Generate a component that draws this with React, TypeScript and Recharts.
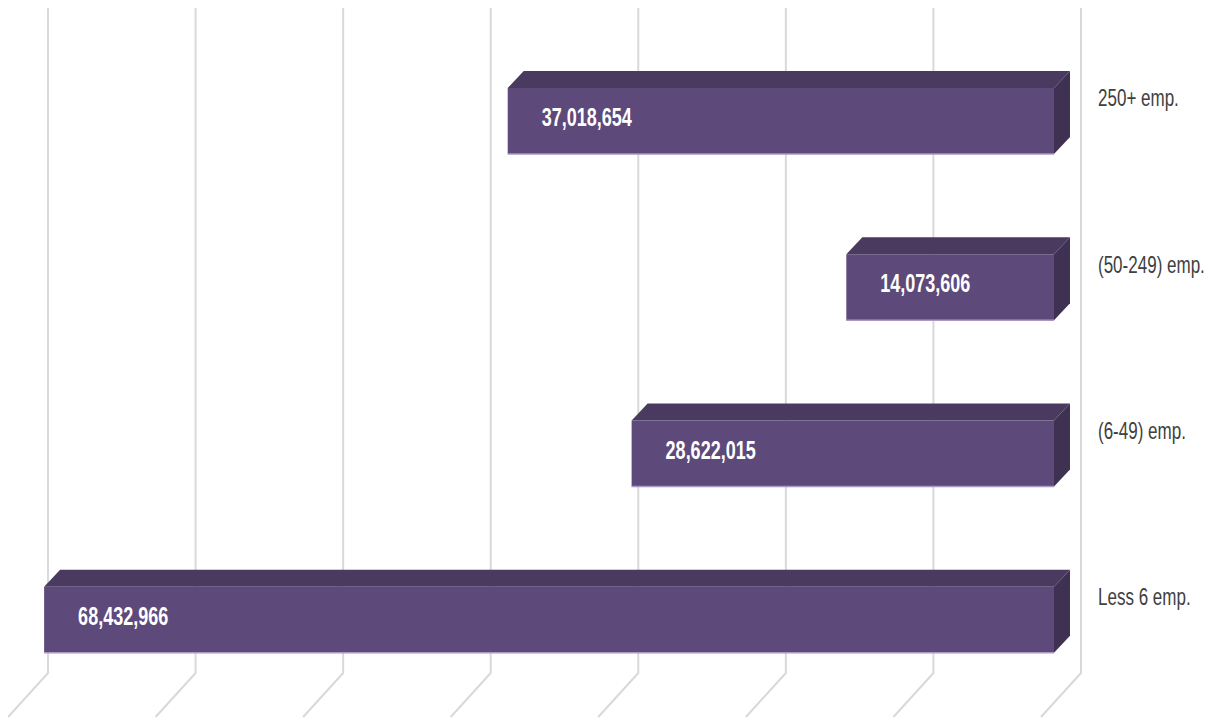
import React from "react";
import { BarChart, Bar, XAxis, YAxis, CartesianGrid } from "recharts";

const categories = ["250+ emp.", "(50-249) emp.", "(6-49) emp.", "Less 6 emp."];
const employees = [37018654, 14073606, 28622015, 68432966];
const xTicks = [0, 10000000, 20000000, 30000000, 40000000, 50000000, 60000000, 70000000];

const data = categories.map((c, i) => ({ name: c, value: employees[i] }));

const FRONT = "#5E4A7A";
const TOP = "#4A3A60";
const SIDE = "#3E3152";
const EDGE = "#A898C2";
const DX = 16;
const DY = 17;
const FONT = "'Liberation Sans', Arial, sans-serif";

const Bar3D = (props: any) => {
  const { x, y, width, height, value } = props;
  const left = Math.min(x, x + width);
  const right = Math.max(x, x + width);
  const top = y;
  const bottom = y + height;
  const txt = Number(value).toLocaleString("en-US");
  return (
    <g>
      <polygon
        points={`${left},${top} ${left + DX},${top - DY} ${right + DX},${top - DY} ${right},${top}`}
        fill={TOP}
      />
      <polygon
        points={`${right},${top} ${right + DX},${top - DY} ${right + DX},${bottom - DY} ${right},${bottom}`}
        fill={SIDE}
      />
      <rect x={left} y={top} width={right - left} height={bottom - top} fill={FRONT} />
      <line x1={left} y1={bottom} x2={right} y2={bottom} stroke={EDGE} strokeWidth={1.5} />
      <text
        transform={`translate(${left + 34},${(top + bottom) / 2 - 4}) scale(0.72,1)`}
        dy="0.36em"
        fill="#FFFFFF"
        fontFamily={FONT}
        fontWeight="bold"
        fontSize={25}
      >
        {txt}
      </text>
    </g>
  );
};

const GridLine = (props: any) => {
  const { x1, y1, y2 } = props;
  const bx = x1 + 27;
  const t = y1 - 30;
  const b = y2 - 30;
  return (
    <path
      d={`M${bx},${t} L${bx},${b} L${bx - 40},${b + 44}`}
      stroke="#D9D9D9"
      strokeWidth={2}
      fill="none"
    />
  );
};

const CatTick = (props: any) => {
  const { x, y, payload } = props;
  return (
    <text
      transform={`translate(${x + 44},${y - 23}) scale(0.74,1)`}
      dy="0.36em"
      fill="#404040"
      fontFamily={FONT}
      fontSize={23}
      textAnchor="start"
    >
      {payload.value}
    </text>
  );
};

export default function App() {
  return (
    <BarChart
      width={1207}
      height={712}
      data={data}
      layout="vertical"
      margin={{ top: 30, right: 0, bottom: 17, left: 13 }}
    >
      <CartesianGrid horizontal={false} vertical={GridLine as any} />
      <XAxis type="number" domain={[0, 70000000]} ticks={xTicks} reversed hide />
      <YAxis
        type="category"
        dataKey="name"
        orientation="right"
        width={161}
        axisLine={false}
        tickLine={false}
        tickSize={0}
        tickMargin={0}
        tick={CatTick}
        interval={0}
      />
      <Bar dataKey="value" barSize={66} shape={Bar3D} isAnimationActive={false} />
    </BarChart>
  );
}
